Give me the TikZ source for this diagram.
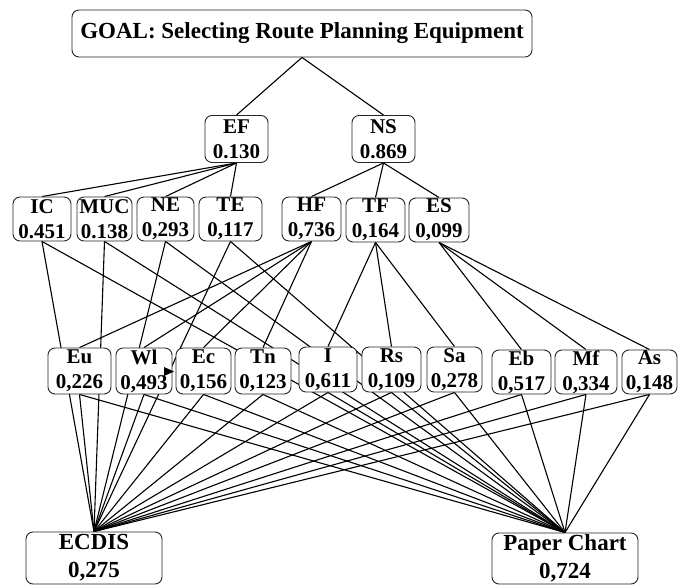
\documentclass[tikz,border=0pt]{standalone}
\usepackage{fontspec}
\setmainfont{Liberation Serif}
\usetikzlibrary{backgrounds}
\tikzset{
  box/.style={draw=black!85, line width=0.9pt, rounded corners=7pt, fill=white, inner sep=0pt,
    align=center, font={\fontsize{21}{25}\selectfont\bfseries}},
  bigbox/.style={box, font={\fontsize{23}{28}\selectfont\bfseries}},
  link/.style={draw=black, line width=1.1pt},
}
\begin{document}
\begin{tikzpicture}[x=1pt,y=-1pt]
\useasboundingbox (0,0) rectangle (678,585);
% goal
\node[bigbox, minimum width=460pt, minimum height=47pt] (goal) at (302,33.5) {GOAL: Selecting Route Planning Equipment};
% main criteria
\node[box, minimum width=63pt, minimum height=47pt] (EF) at (236.5,139) {EF\\0.130};
\node[box, minimum width=63pt, minimum height=47pt] (NS) at (383.5,139) {NS\\0.869};
% criteria
\node[box, minimum width=58pt, minimum height=44pt] (IC)  at (42,219)    {IC\\0.451};
\node[box, minimum width=55pt, minimum height=44pt] (MUC) at (104.5,219) {MUC\\0.138};
\node[box, minimum width=57pt, minimum height=44pt] (NE)  at (165.5,219) {NE\\0,293};
\node[box, minimum width=63pt, minimum height=44pt] (TE)  at (230.5,219) {TE\\0,117};
\node[box, minimum width=59pt, minimum height=44pt] (HF)  at (311.5,219) {HF\\0,736};
\node[box, minimum width=59pt, minimum height=44pt] (TF)  at (375.5,220) {TF\\0,164};
\node[box, minimum width=60pt, minimum height=44pt] (ES)  at (439,220)   {ES\\0,099};
% sub-criteria
\node[box, minimum width=63pt, minimum height=46pt] (Eu) at (79.5,371)  {Eu\\0,226};
\node[box, minimum width=56pt, minimum height=46pt] (Wl) at (144,371)   {Wl\\0,493};
\node[box, minimum width=55pt, minimum height=46pt] (Ec) at (203.5,371) {Ec\\0,156};
\node[box, minimum width=56pt, minimum height=46pt] (Tn) at (263,371)   {Tn\\0,123};
\node[box, minimum width=58pt, minimum height=45pt] (I)  at (328,369.5) {I\\0,611};
\node[box, minimum width=59pt, minimum height=45pt] (Rs) at (391.5,369.5) {Rs\\0,109};
\node[box, minimum width=55pt, minimum height=45pt] (Sa) at (454.5,369.5) {Sa\\0,278};
\node[box, minimum width=59pt, minimum height=44pt] (Eb) at (521.5,372) {Eb\\0,517};
\node[box, minimum width=62pt, minimum height=44pt] (Mf) at (586,372)   {Mf\\0,334};
\node[box, minimum width=55pt, minimum height=44pt] (As) at (649.5,372) {As\\0,148};
% alternatives
\node[bigbox, minimum width=136pt, minimum height=52pt] (ECDIS) at (94,558)  {ECDIS\\0,275};
\node[bigbox, minimum width=146pt, minimum height=51pt] (PC)    at (565,558.5) {Paper Chart\\0,724};
% connectors
\begin{pgfonlayer}{background}
\draw[link] (goal.south) -- (EF.north);
\draw[link] (goal.south) -- (NS.north);
\foreach \c in {IC,MUC,NE,TE} \draw[link] (EF.south) -- (\c.north);
\foreach \c in {HF,TF,ES} \draw[link] (NS.south) -- (\c.north);
\foreach \s in {Eu,Wl,Ec,Tn} \draw[link] (HF.south) -- (\s.north);
\foreach \s in {I,Rs,Sa} \draw[link] (TF.south) -- (\s.north);
\foreach \s in {Eb,Mf,As} \draw[link] (ES.south) -- (\s.north);
\foreach \s in {IC,MUC,NE,TE,Eu,Wl,Ec,Tn,I,Rs,Sa,Eb,Mf,As} {
  \draw[link] (\s.south) -- (ECDIS.north);
  \draw[link] (\s.south) -- (PC.north);
}
\end{pgfonlayer}
% stray arrowhead
\fill[black] (164,367) -- (174,371.5) -- (164,376) -- cycle;
\end{tikzpicture}
\end{document}
